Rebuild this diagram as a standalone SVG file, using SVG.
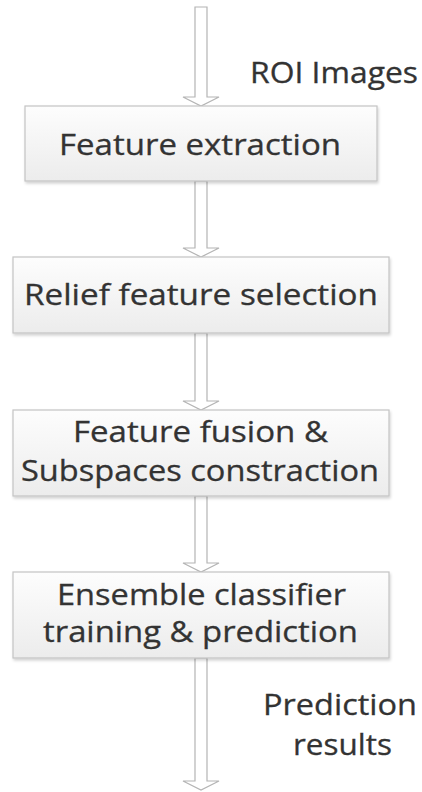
<svg xmlns="http://www.w3.org/2000/svg" width="422" height="792" viewBox="0 0 422 792">
  <style>
    .box { fill: url(#boxFill); stroke: #c4c4c4; stroke-width: 1.2; filter: url(#shadow); }
    .lbl { font-family: "Open Sans", "Liberation Sans", sans-serif; font-size: 29px; fill: #333333; stroke: #333333; stroke-width: 0.3; }
    .arrow { fill: #ffffff; stroke: #b4b4b4; stroke-width: 1.2; stroke-linejoin: miter; }
  </style>
  <defs>
    <linearGradient id="boxFill" x1="0" y1="0" x2="0" y2="1">
      <stop offset="0" stop-color="#fdfdfd"/>
      <stop offset="1" stop-color="#ececec"/>
    </linearGradient>
    <filter id="shadow" x="-5%" y="-10%" width="110%" height="130%">
      <feGaussianBlur in="SourceAlpha" stdDeviation="1.5"/>
      <feOffset dx="1" dy="2" result="b"/>
      <feComponentTransfer><feFuncA type="linear" slope="0.18"/></feComponentTransfer>
      <feMerge><feMergeNode/><feMergeNode in="SourceGraphic"/></feMerge>
    </filter>
  </defs>
  <rect width="422" height="792" fill="#ffffff"/>

  <!-- block arrows between the stages -->
  <g id="connectors">
    <polygon class="arrow" points="195,7 207,7 207,97 219,97 201,106 183,97 195,97"/>
    <polygon class="arrow" points="195,181 207,181 207,248 219,248 201,257 183,248 195,248"/>
    <polygon class="arrow" points="195,333 207,333 207,401 219,401 201,410 183,401 195,401"/>
    <polygon class="arrow" points="195,496 207,496 207,563 219,563 201,572 183,563 195,563"/>
    <polygon class="arrow" points="195,658 207,658 207,781 219,781 201,790 183,781 195,781"/>
  </g>

  <g id="label-roi">
    <text class="lbl" x="250" y="83" textLength="168" lengthAdjust="spacingAndGlyphs">ROI Images</text>
  </g>

  <g id="node-extraction">
    <rect class="box" x="25" y="106" width="352" height="75"/>
    <text class="lbl" x="59" y="155" textLength="282" lengthAdjust="spacingAndGlyphs">Feature extraction</text>
  </g>

  <g id="node-selection">
    <rect class="box" x="13" y="257" width="376" height="76"/>
    <text class="lbl" x="24" y="305" textLength="354" lengthAdjust="spacingAndGlyphs">Relief feature selection</text>
  </g>

  <g id="node-fusion">
    <rect class="box" x="13" y="410" width="376" height="86"/>
    <text class="lbl" x="73" y="442" textLength="255" lengthAdjust="spacingAndGlyphs">Feature fusion &amp;</text>
    <text class="lbl" x="21" y="481" textLength="358" lengthAdjust="spacingAndGlyphs">Subspaces constraction</text>
  </g>

  <g id="node-ensemble">
    <rect class="box" x="13" y="572" width="376" height="86"/>
    <text class="lbl" x="57" y="605" textLength="289" lengthAdjust="spacingAndGlyphs">Ensemble classifier</text>
    <text class="lbl" x="43" y="642" textLength="315" lengthAdjust="spacingAndGlyphs">training &amp; prediction</text>
  </g>

  <g id="label-results">
    <text class="lbl" x="263" y="715" textLength="154" lengthAdjust="spacingAndGlyphs">Prediction</text>
    <text class="lbl" x="293" y="755" textLength="99" lengthAdjust="spacingAndGlyphs">results</text>
  </g>
</svg>
